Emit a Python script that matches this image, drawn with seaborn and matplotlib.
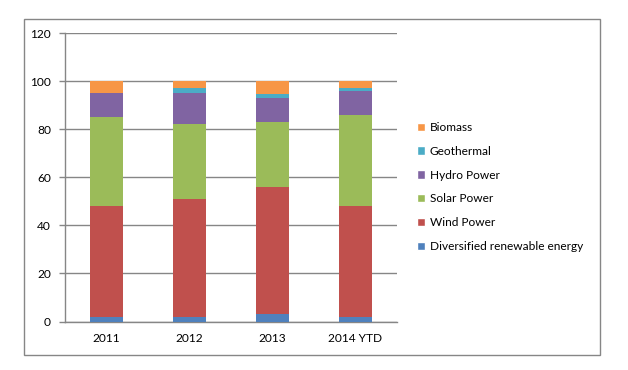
import matplotlib
matplotlib.use("Agg")
import matplotlib.pyplot as plt
import seaborn as sns
import numpy as np
import pandas as pd
from matplotlib.patches import Rectangle, Patch

years = ["2011", "2012", "2013", "2014 YTD"]
series = ["Diversified renewable energy", "Wind Power", "Solar Power",
          "Hydro Power", "Geothermal", "Biomass"]
diversified = [2, 2, 3, 2]
wind = [46, 49, 53, 46]
solar = [37, 31, 27, 38]
hydro = [10, 13, 10, 10]
geothermal = [0, 2, 1.5, 1]
biomass = [5, 3, 5.5, 3]
colors = ["#4F81BD", "#C0504D", "#9BBB59", "#8064A2", "#4BACC6", "#F79646"]
yticks = [0, 20, 40, 60, 80, 100, 120]

sns.set_theme(style="white")
plt.rcParams['font.family'] = ['Lato', 'DejaVu Sans']

values = [diversified, wind, solar, hydro, geothermal, biomass]
cum = np.cumsum(np.array(values, dtype=float), axis=0)

fig = plt.figure(figsize=(6.28, 3.70), dpi=100)
ax = fig.add_axes([65/628, (370-321.5)/370, (397-65)/628, (321.5-33)/370])

for i in range(len(series) - 1, -1, -1):
    df = pd.DataFrame({"year": years, "value": cum[i]})
    sns.barplot(data=df, x="year", y="value", color=colors[i], width=0.4,
                saturation=1, ax=ax, zorder=3, linewidth=0)

FS = 8.6
ax.set_ylim(0, 120)
ax.set_xlim(-0.5, 3.5)
ax.set_yticks(yticks)
ax.set_yticklabels([str(t) for t in yticks], fontsize=FS, color="#000000")
ax.set_xlabel("")
ax.set_ylabel("")
ax.tick_params(axis="x", which="major", length=0, labelsize=FS, pad=8,
               labelcolor="#000000")
ax.set_xticks([-0.5, 0.5, 1.5, 2.5, 3.5], minor=True)
ax.tick_params(axis="x", which="minor", length=4, color="#868686", width=1,
               direction="out")
ax.tick_params(axis="y", length=4, color="#868686", width=1, direction="out",
               left=True, pad=6)
ax.yaxis.grid(True, color="#868686", linewidth=1, zorder=0)
ax.set_axisbelow(True)
for s in ["top", "right"]:
    ax.spines[s].set_visible(False)
for s in ["left", "bottom"]:
    ax.spines[s].set_color("#868686")
    ax.spines[s].set_linewidth(1)

handles = [Patch(facecolor=colors[i], label=series[i]) for i in range(len(series) - 1, -1, -1)]
leg = ax.legend(handles=handles, loc="upper left", bbox_to_anchor=(417/628, (370-122)/370),
                bbox_transform=fig.transFigure, frameon=False, fontsize=FS,
                handlelength=0.7, handleheight=0.7, handletextpad=0.35,
                labelspacing=1.07, borderaxespad=0, borderpad=0)
for t in leg.get_texts():
    t.set_color("#000000")

fig.patches.append(Rectangle((24/628, (370-355)/370), 576/628, 336/370,
                             transform=fig.transFigure, fill=False,
                             edgecolor="#868686", linewidth=1))

fig.savefig("out.png", dpi=100)
